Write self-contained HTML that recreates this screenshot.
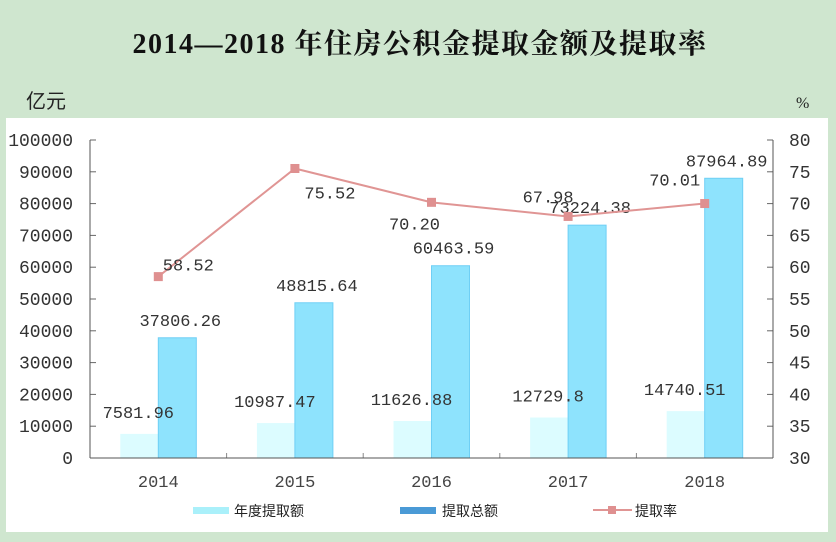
<!DOCTYPE html>
<html><head><meta charset="utf-8"><style>
body{margin:0;width:836px;height:537px;background:#cfe6cf;overflow:hidden;font-family:"Liberation Serif","Noto Serif CJK SC",serif}
</style></head><body>
<svg width="836" height="537">
<rect x="0" y="0" width="836" height="537" fill="#cfe6cf"/>
<rect x="6" y="118" width="822" height="414" fill="#fff"/>
<text x="420" y="53" text-anchor="middle" font-size="28" font-weight="bold" letter-spacing="1.5" fill="#111" font-family="Liberation Serif,Noto Serif CJK SC,serif">2014—2018 年住房公积金提取金额及提取率</text>
<text x="26" y="108" font-size="20" fill="#222" font-family="Noto Sans CJK SC,sans-serif">亿元</text>
<text x="796" y="108" font-size="16" fill="#222" font-family="Liberation Serif,serif">%</text>
<g id="g" font-family="Liberation Mono,monospace"></g>
</svg>
<script>
const categories=["2014","2015","2016","2017","2018"];
const annualWithdrawal=[7581.96,10987.47,11626.88,12729.8,14740.51];
const totalWithdrawal=[37806.26,48815.64,60463.59,73224.38,87964.89];
const withdrawalRate=[58.52,75.52,70.20,67.98,70.01];
const annualLabels=["7581.96","10987.47","11626.88","12729.8","14740.51"];
const totalLabels=["37806.26","48815.64","60463.59","73224.38","87964.89"];
const rateLabels=["58.52","75.52","70.20","67.98","70.01"];
const leftTicks=[0,10000,20000,30000,40000,50000,60000,70000,80000,90000,100000];
const rightTicks=[30,35,40,45,50,55,60,65,70,75,80];

const NS="http://www.w3.org/2000/svg",g=document.getElementById('g');
const X0=90,X1=773,Y0=458,Y1=140,band=(X1-X0)/categories.length;
const yL=v=>Y0-(v/100000)*(Y0-Y1);
const yR=v=>Y0-((v-30)/50)*(Y0-Y1);
const cx=i=>X0+band*(i+0.5);
function el(t,a,txt){const e=document.createElementNS(NS,t);for(const k in a)e.setAttribute(k,a[k]);if(txt!==undefined)e.textContent=txt;g.appendChild(e);return e;}

leftTicks.forEach(t=>{
const e=el('text',{x:73,y:yL(t)+6,'text-anchor':'end','font-size':18,fill:'#333'},String(t));


const l=el('line',{x1:X0,x2:X0+6,y1:yL(t),y2:yL(t),stroke:'#666'});


});
rightTicks.forEach(t=>{
const e=el('text',{x:789,y:yR(t)+6,'font-size':18,fill:'#333'},String(t));


const l=el('line',{x1:X1-6,x2:X1,y1:yR(t),y2:yR(t),stroke:'#666'});


});
categories.forEach((c,i)=>{
const bw=38;
const a=el('rect',{x:cx(i)-bw,y:yL(annualWithdrawal[i]),width:bw,height:Y0-yL(annualWithdrawal[i]),fill:'#dcfcff'});


const b=el('rect',{x:cx(i),y:yL(totalWithdrawal[i]),width:bw,height:Y0-yL(totalWithdrawal[i]),fill:'#8ee3fd',stroke:'#6fcff5','stroke-width':1});


const xl=el('text',{x:cx(i),y:487,'text-anchor':'middle','font-size':17,fill:'#444'},c);


if(i>0){const tk=el('line',{x1:X0+band*i,x2:X0+band*i,y1:Y0,y2:Y0-5,stroke:'#888'});

}
const la=el('text',{x:cx(i)-20,y:yL(annualWithdrawal[i])-16,'text-anchor':'middle','font-size':17,fill:'#333'},annualLabels[i]);


const lb=el('text',{x:cx(i)+22,y:yL(totalWithdrawal[i])-12,'text-anchor':'middle','font-size':17,fill:'#333'},totalLabels[i]);


});
el('line',{x1:X0,x2:X0,y1:Y1,y2:Y0,stroke:'#555'});
el('line',{x1:X1,x2:X1,y1:Y1,y2:Y0,stroke:'#555'});
el('line',{x1:X0,x2:X1,y1:Y0,y2:Y0,stroke:'#555'});
const pts=withdrawalRate.map((v,i)=>cx(i)+','+yR(v)).join(' ');
const pl=el('polyline',{points:pts,fill:'none',stroke:'#e09594','stroke-width':2});


const off=[[30,-6],[35,30],[-17,27],[-20,-14],[-30,-18]];
withdrawalRate.forEach((v,i)=>{
const m=el('rect',{x:cx(i)-4.5,y:yR(v)-4.5,width:9,height:9,fill:'#df9090'});


const t=el('text',{x:cx(i)+off[i][0],y:yR(v)+off[i][1],'text-anchor':'middle','font-size':17,fill:'#333'},rateLabels[i]);


});
const l1=el('rect',{x:193,y:507,width:36,height:7,fill:'#aaf0fa'});


const t1=el('text',{x:234,y:516,'font-size':14,fill:'#222','font-family':'Noto Sans CJK SC,sans-serif'},'年度提取额');


const l2=el('rect',{x:400,y:507,width:36,height:7,fill:'#4a9ad6'});


const t2=el('text',{x:442,y:516,'font-size':14,fill:'#222','font-family':'Noto Sans CJK SC,sans-serif'},'提取总额');


const l3=el('line',{x1:593,x2:632,y1:510,y2:510,stroke:'#e09594','stroke-width':2});


const l4=el('rect',{x:608,y:506,width:8,height:8,fill:'#df9090'});


const t3=el('text',{x:635,y:516,'font-size':14,fill:'#222','font-family':'Noto Sans CJK SC,sans-serif'},'提取率');


</script>
</body></html>
